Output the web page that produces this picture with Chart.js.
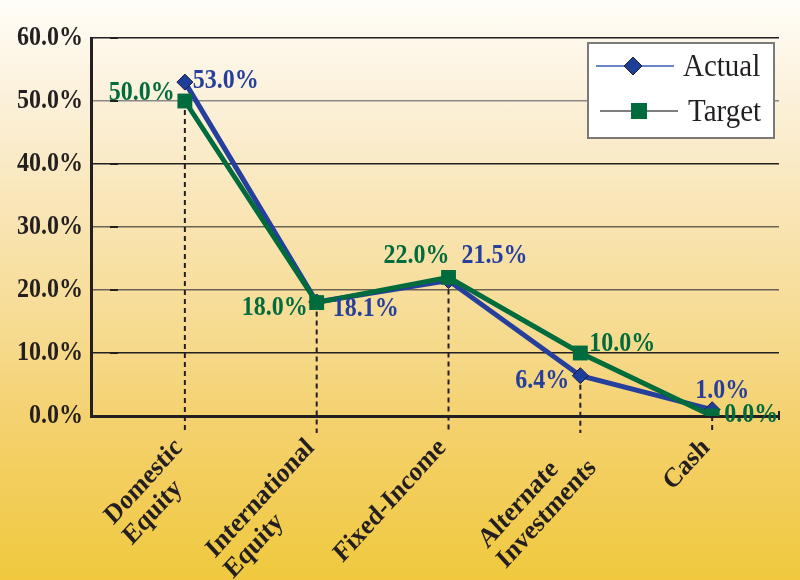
<!DOCTYPE html>
<html>
<head>
<meta charset="utf-8">
<script src="https://cdn.jsdelivr.net/npm/chart.js@4.4.0/dist/chart.umd.min.js"></script>
<style>
  html, body { margin: 0; padding: 0; }
  body {
    width: 800px; height: 580px; overflow: hidden;
    background: linear-gradient(to bottom, #fffdf7 0%, #fbf0d8 18%, #f9e6b8 35%, #f6da8e 58%, #f4d06a 75%, #f0c93e 100%);
  }
  #wrap { position: relative; width: 800px; height: 580px; }
</style>
</head>
<body>
<div id="wrap"><canvas id="myChart"></canvas></div>
<script>
// chart data
const categories = [['Domestic', 'Equity'], ['International', 'Equity'], ['Fixed-Income'], ['Alternate', 'Investments'], ['Cash']];
const actualValues = [53.0, 18.1, 21.5, 6.4, 1.0];
const targetValues = [50.0, 18.0, 22.0, 10.0, 0.0];
const yTicks = [0, 10, 20, 30, 40, 50, 60];

const BLUE = '#263f9c';
const GREEN = '#006b3c';
const INK = '#231f20';
const SERIF = '"Liberation Serif", "Times New Roman", serif';
const STRETCH = 1.1; // the original text is a bit taller than wide

// where each value label sits relative to its point: [align, dx, dy]
const actualLabelPos = [['left', 8, -1], ['left', 16, 7], ['left', 13, -24], ['right', -11, 5], ['center', 10, -19]];
const targetLabelPos = [['right', -10, -8], ['right', -9, 6], ['right', 1, -21], ['left', 9, -9], ['left', 12, -1]];

const gridColors = { 10: INK, 20: '#6b6255', 30: '#6b6255', 40: INK, 50: '#8c8885', 60: INK };

function tallText(ctx, text, x, y) {
    ctx.save();
    ctx.translate(x, y);
    ctx.scale(1, STRETCH);
    ctx.fillText(text, 0, 0);
    ctx.restore();
}

// dashed drop lines from each category point down below the axis
const dropLines = {
    id: 'dropLines',
    beforeDatasetsDraw(chart) {
        const ctx = chart.ctx;
        const xs = chart.scales.x, ys = chart.scales.y;
        const area = chart.chartArea;
        ctx.save();
        // short marks on the gridlines next to the axis
        ctx.strokeStyle = INK;
        ctx.lineWidth = 2;
        yTicks.slice(1).forEach(v => {
            const y = ys.getPixelForValue(v);
            ctx.beginPath();
            ctx.moveTo(area.left + 19, y);
            ctx.lineTo(area.left + 27, y);
            ctx.stroke();
        });
        // right end tick of the x axis
        ctx.beginPath();
        ctx.moveTo(area.right, area.bottom - 5);
        ctx.lineTo(area.right, area.bottom + 4);
        ctx.stroke();

        ctx.setLineDash([5, 4]);
        categories.forEach((c, i) => {
            const x = xs.getPixelForValue(i);
            const top = Math.max(ys.getPixelForValue(actualValues[i]), ys.getPixelForValue(targetValues[i]));
            ctx.beginPath();
            ctx.moveTo(x, top);
            ctx.lineTo(x, area.bottom + 17);
            ctx.stroke();
        });
        ctx.restore();
    }
};

// value labels, axis labels and legend box
const decorations = {
    id: 'decorations',
    afterDatasetsDraw(chart) {
        const ctx = chart.ctx;
        const xs = chart.scales.x, ys = chart.scales.y;
        const area = chart.chartArea;
        ctx.save();

        // y tick labels
        ctx.font = 'bold 24px ' + SERIF;
        ctx.fillStyle = INK;
        ctx.textAlign = 'right';
        ctx.textBaseline = 'middle';
        yTicks.forEach(v => tallText(ctx, v.toFixed(1) + '%', area.left - 8, ys.getPixelForValue(v)));

        // value labels
        const drawSet = (values, pos, color) => {
            ctx.fillStyle = color;
            values.forEach((v, i) => {
                const p = pos[i];
                ctx.textAlign = p[0];
                tallText(ctx, v.toFixed(1) + '%', xs.getPixelForValue(i) + p[1], ys.getPixelForValue(v) + p[2]);
            });
        };
        drawSet(targetValues, targetLabelPos, GREEN);
        drawSet(actualValues, actualLabelPos, BLUE);

        // category labels at 45 degrees
        ctx.font = 'bold 25px ' + SERIF;
        ctx.fillStyle = INK;
        ctx.textAlign = 'left';
        ctx.textBaseline = 'top';
        categories.forEach((lines, i) => {
            const x = xs.getPixelForValue(i);
            const maxW = Math.max(...lines.map(l => ctx.measureText(l).width));
            ctx.save();
            ctx.translate(x - 15, area.bottom + 18);
            ctx.scale(1, STRETCH);
            ctx.rotate(-Math.PI / 4);
            lines.forEach((l, j) => ctx.fillText(l, -maxW, j * 26));
            ctx.restore();
        });

        // legend
        const bx = area.right - 191, by = area.top + 5;
        ctx.fillStyle = '#ffffff';
        ctx.fillRect(bx, by, 186, 95);
        ctx.strokeStyle = '#7a7a7a';
        ctx.lineWidth = 2;
        ctx.strokeRect(bx, by, 186, 95);

        ctx.strokeStyle = '#3b5bb5';
        ctx.lineWidth = 1.5;
        ctx.beginPath();
        ctx.moveTo(bx + 8, by + 23);
        ctx.lineTo(bx + 86, by + 23);
        ctx.stroke();
        ctx.beginPath();
        ctx.moveTo(bx + 45, by + 14);
        ctx.lineTo(bx + 54, by + 23);
        ctx.lineTo(bx + 45, by + 32);
        ctx.lineTo(bx + 36, by + 23);
        ctx.closePath();
        ctx.fillStyle = '#1e3f99';
        ctx.fill();
        ctx.strokeStyle = '#222';
        ctx.lineWidth = 1;
        ctx.stroke();

        ctx.strokeStyle = '#7f7f7f';
        ctx.lineWidth = 2;
        ctx.beginPath();
        ctx.moveTo(bx + 12, by + 68);
        ctx.lineTo(bx + 90, by + 68);
        ctx.stroke();
        ctx.fillStyle = GREEN;
        ctx.fillRect(bx + 43, by + 60, 16, 16);

        ctx.font = '29px ' + SERIF;
        ctx.fillStyle = INK;
        ctx.textAlign = 'left';
        ctx.textBaseline = 'middle';
        tallText(ctx, 'Actual', bx + 95, by + 25);
        tallText(ctx, 'Target', bx + 100, by + 70);
        ctx.restore();
    }
};

const ctx = document.getElementById('myChart').getContext('2d');
const myChart = new Chart(ctx, {
    type: 'line',
    data: {
        datasets: [{
            label: 'Actual',
            data: actualValues.map((v, i) => ({ x: i, y: v })),
            borderColor: BLUE,
            borderWidth: 5,
            pointStyle: 'rectRot',
            pointRadius: 8,
            pointBackgroundColor: '#1e3f99',
            pointBorderColor: '#1a1a40',
            pointBorderWidth: 1,
            order: 1,
            tension: 0
        }, {
            label: 'Target',
            data: targetValues.map((v, i) => ({ x: i, y: v })),
            borderColor: GREEN,
            borderWidth: 5,
            pointStyle: 'rect',
            pointRadius: 10.5,
            pointBackgroundColor: GREEN,
            pointBorderColor: GREEN,
            pointBorderWidth: 0,
            order: 0,
            tension: 0
        }]
    },
    options: {
        responsive: true,
        maintainAspectRatio: false,
        animation: false,
        layout: { padding: { top: 38, right: 21, left: 0, bottom: 0 } },
        plugins: {
            legend: { display: false },
            tooltip: { enabled: false }
        },
        scales: {
            x: {
                type: 'linear',
                min: -0.712,
                max: 4.507,
                ticks: { display: false },
                grid: { display: false },
                border: { display: true, color: INK, width: 3 },
                afterFit(scale) { scale.height = 164; }
            },
            y: {
                min: 0,
                max: 60,
                afterBuildTicks(scale) { scale.ticks = yTicks.map(v => ({ value: v })); },
                ticks: { display: false },
                grid: {
                    drawTicks: false,
                    lineWidth: 1.5,
                    color: c => (c.tick && gridColors[c.tick.value]) || 'rgba(0,0,0,0)'
                },
                border: { display: true, color: INK, width: 3 },
                afterFit(scale) { scale.width = 91; }
            }
        }
    },
    plugins: [dropLines, decorations]
});
</script>
</body>
</html>
